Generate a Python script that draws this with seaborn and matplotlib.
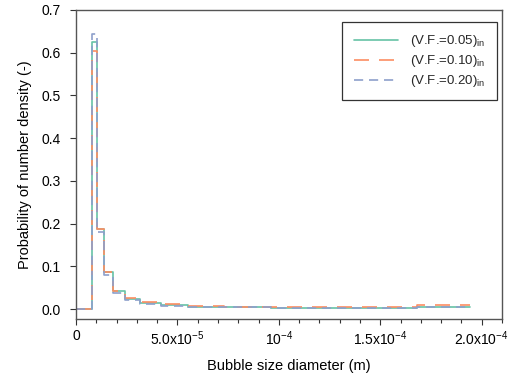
import pandas as pd
import matplotlib.pyplot as plt
import matplotlib.ticker as mticker
import seaborn as sns

# bin edges (m) and probability per bin
edges = [0, 7.9e-6, 10.4e-6, 13.8e-6, 18.2e-6, 24.0e-6, 31.7e-6, 41.8e-6,
         55.2e-6, 72.9e-6, 96.2e-6, 127e-6, 168e-6, 194e-6]
vf005 = [0.0, 0.626, 0.187, 0.086, 0.042, 0.023, 0.014, 0.010, 0.006, 0.004, 0.003, 0.002, 0.005]
vf010 = [0.0, 0.603, 0.187, 0.086, 0.043, 0.025, 0.016, 0.012, 0.008, 0.006, 0.005, 0.004, 0.009]
vf020 = [0.0, 0.644, 0.181, 0.081, 0.039, 0.021, 0.012, 0.008, 0.006, 0.004, 0.003, 0.002, 0.006]
labels = [r'(V.F.=0.05)$_{\rm in}$', r'(V.F.=0.10)$_{\rm in}$', r'(V.F.=0.20)$_{\rm in}$']

rows = []
for lab, vals in zip(labels, [vf005, vf010, vf020]):
    ys = vals + [vals[-1]]  # repeat last so steps-post draws the final bin
    for x, y in zip(edges, ys):
        rows.append({'d': x, 'p': y, 'case': lab})
df = pd.DataFrame(rows)

sns.set_style('ticks')
plt.rcParams['font.family'] = ['Liberation Sans', 'DejaVu Sans']
plt.rcParams['mathtext.fontset'] = 'custom'
plt.rcParams['mathtext.rm'] = 'Liberation Sans'
plt.rcParams['axes.unicode_minus'] = False

fig = plt.figure(figsize=(5.15, 3.8), dpi=100)
ax = fig.add_axes([0.1476, 0.1605, 0.8272, 0.8132])

colors = ['#66c2a5', '#fc8d62', '#8da0cb']
dashes = {labels[0]: '', labels[1]: (9, 6), labels[2]: (5.5, 3.5)}
sns.lineplot(data=df, x='d', y='p', hue='case', style='case', palette=colors,
             dashes=dashes, drawstyle='steps-post', linewidth=1.2, ax=ax,
             sort=False, estimator=None)

ax.set_xlim(0, 2.1e-4)
ax.set_ylim(-0.023, 0.7)
ax.set_xticks([0, 5e-5, 1e-4, 1.5e-4, 2e-4])
ax.set_xticklabels(['0', r'5.0x10$^{-5}$', r'10$^{-4}$', r'1.5x10$^{-4}$', r'2.0x10$^{-4}$'])
ax.xaxis.set_minor_locator(mticker.MultipleLocator(1e-5))
ax.set_yticks([0, 0.1, 0.2, 0.3, 0.4, 0.5, 0.6, 0.7])
ax.set_yticklabels(['0.0', '0.1', '0.2', '0.3', '0.4', '0.5', '0.6', '0.7'])
ax.tick_params(labelsize=10, color='#333333', labelcolor='black', length=4, width=0.8)
ax.tick_params(axis='y', pad=7)
ax.tick_params(which='minor', length=3, width=0.8, color='#333333')
for s in ax.spines.values():
    s.set_color('#555555')
    s.set_linewidth(1.0)

ax.set_xlabel('Bubble size diameter (m)', fontsize=10.5, labelpad=8, color='black')
ax.set_ylabel('Probability of number density (-)', fontsize=10.5, labelpad=7, color='black')

leg = ax.legend(title=None, loc='upper right', fontsize=9.5, handlelength=3.4,
                frameon=True, fancybox=False, borderpad=0.85, labelspacing=0.3,
                handletextpad=0.9, borderaxespad=0, bbox_to_anchor=(0.988, 0.961))
leg.get_frame().set_edgecolor('black')
leg.get_frame().set_linewidth(0.9)

fig.savefig('out.png', dpi=100)
